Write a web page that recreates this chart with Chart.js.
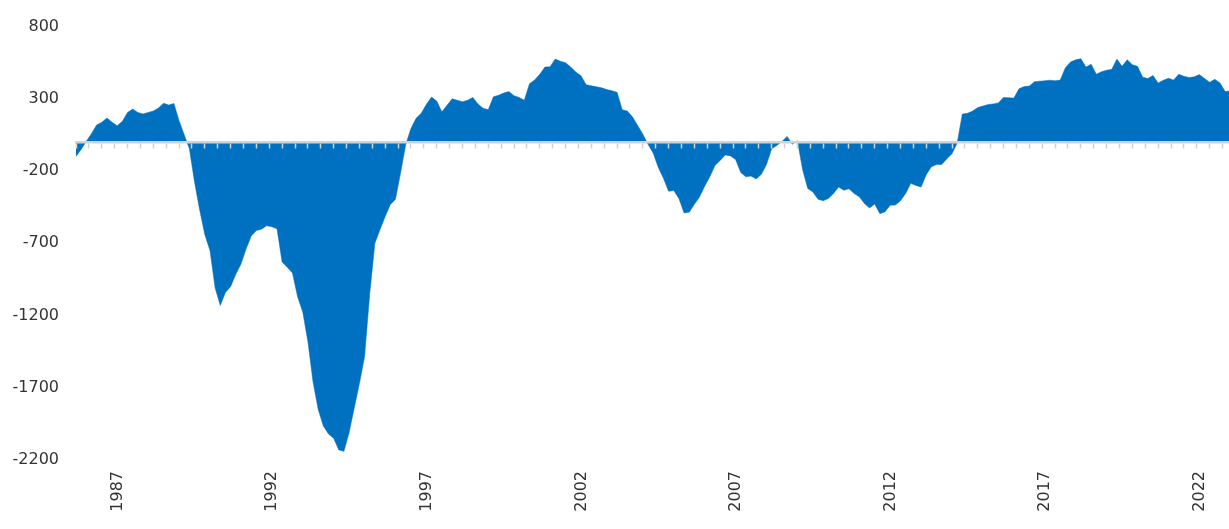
<!DOCTYPE html>
<html>
<head>
<meta charset="utf-8">
<script src="https://cdn.jsdelivr.net/npm/chart.js@4/dist/chart.umd.min.js"></script>
<style>
  html, body { margin: 0; padding: 0; background: #fff; }
  #wrap { width: 1229px; height: 529px; }
</style>
</head>
<body>
<div id="wrap"><canvas id="area-chart"></canvas></div>
<script>
// monthly series starting Oct 1985, one value read every 2 months
var startYear = 1985;
var startMonth = 10;
var stepMonths = 2;
var lastMonth = 447.5;

var values = [
  -99, -50, 7, 59, 119, 138, 167, 138, 114, 144,
  206, 229, 206, 195, 206, 215, 236, 270, 257, 268,
  149, 52, -45, -275, -470, -640, -750, -1010, -1130, -1040,
  -1000, -915, -845, -740, -650, -612, -602, -578, -585, -600,
  -830, -865, -905, -1070, -1175, -1380, -1660, -1850, -1965, -2020,
  -2050, -2130, -2140, -2010, -1840, -1670, -1485, -1050, -700, -605,
  -515, -432, -395, -210, -15, 95, 165, 200, 262, 312,
  285, 210, 255, 300, 290, 280, 290, 310, 265, 235,
  225, 314, 325, 340, 350, 322, 310, 290, 405, 430,
  470, 520, 522, 575, 560, 550, 520, 485, 460, 398,
  390, 383, 376, 364, 356, 345, 225, 215, 175, 115,
  55, -15, -75, -175, -250, -340, -335, -390, -490, -485,
  -430, -380, -305, -240, -161, -127, -88, -95, -120, -210,
  -240, -235, -255, -222, -155, -46, -23, 5, 40, -15,
  10, -190, -320, -345, -395, -405, -390, -356, -310, -333,
  -322, -355, -378, -425, -455, -428, -495, -482, -437, -435,
  -405, -355, -285, -300, -310, -225, -170, -155, -155, -115,
  -80, -5, 195, 200, 215, 240, 250, 260, 265, 272,
  310, 308, 305, 370, 385, 388, 418, 422, 425, 429,
  425, 430, 516, 555, 570, 578, 520, 540, 470, 488,
  498, 504, 575, 525, 570, 536, 525, 450, 440, 462,
  410, 428, 442, 430, 470, 456, 448, 452, 468, 440,
  415, 435, 410, 350, 355
];

var yearLabels = [1987, 1992, 1997, 2002, 2007, 2012, 2017, 2022];
var yTicks = [800, 300, -200, -700, -1200, -1700, -2200];

function monthOfYear(y) {
  return (y - startYear) * 12 + 1 - startMonth;
}

var points = [];
for (var i = 0; i < values.length; i++) {
  points.push({ x: i * stepMonths, y: values[i] });
}

var labelFont = { family: 'DejaVu Sans', size: 16 };

new Chart(document.getElementById('area-chart'), {
  type: 'line',
  data: {
    datasets: [{
      data: points,
      backgroundColor: '#0070c0',
      borderColor: '#0070c0',
      borderWidth: 0.5,
      pointRadius: 0,
      tension: 0,
      fill: 'origin'
    }]
  },
  options: {
    responsive: true,
    maintainAspectRatio: false,
    animation: false,
    events: [],
    layout: { padding: { top: 20, right: 0, bottom: 0, left: 0 } },
    plugins: { legend: { display: false }, tooltip: { enabled: false } },
    scales: {
      x: {
        type: 'linear',
        min: 0,
        max: lastMonth,
        grid: { display: false, drawTicks: false },
        border: { display: false },
        afterBuildTicks: function (scale) {
          scale.ticks = yearLabels.map(function (y) { return { value: monthOfYear(y) }; });
        },
        afterFit: function (scale) { scale.height = 69; },
        ticks: {
          minRotation: 90,
          maxRotation: 90,
          autoSkip: false,
          padding: 11,
          labelOffset: 3,
          color: '#333',
          font: labelFont,
          callback: function (v) {
            return String(startYear + Math.floor((startMonth - 1 + v) / 12));
          }
        }
      },
      zero: {
        type: 'linear',
        axis: 'x',
        position: { y: 0 },
        min: 0,
        max: lastMonth,
        ticks: { display: false, stepSize: 5, includeBounds: false },
        grid: {
          display: true,
          drawOnChartArea: false,
          drawTicks: true,
          tickLength: 5,
          tickWidth: 1.5,
          tickColor: '#d2d2d2',
          z: 1
        },
        border: { display: true, color: '#d2d2d2', width: 2.5, z: 1 }
      },
      y: {
        min: -2200,
        max: 800,
        grid: { display: false, drawTicks: false },
        border: { display: false },
        afterBuildTicks: function (scale) {
          scale.ticks = yTicks.map(function (v) { return { value: v }; });
        },
        afterFit: function (scale) { scale.width = 76; },
        ticks: {
          padding: 17,
          color: '#333',
          font: labelFont,
          callback: function (v) { return String(v); }
        }
      }
    }
  }
});
</script>
</body>
</html>
